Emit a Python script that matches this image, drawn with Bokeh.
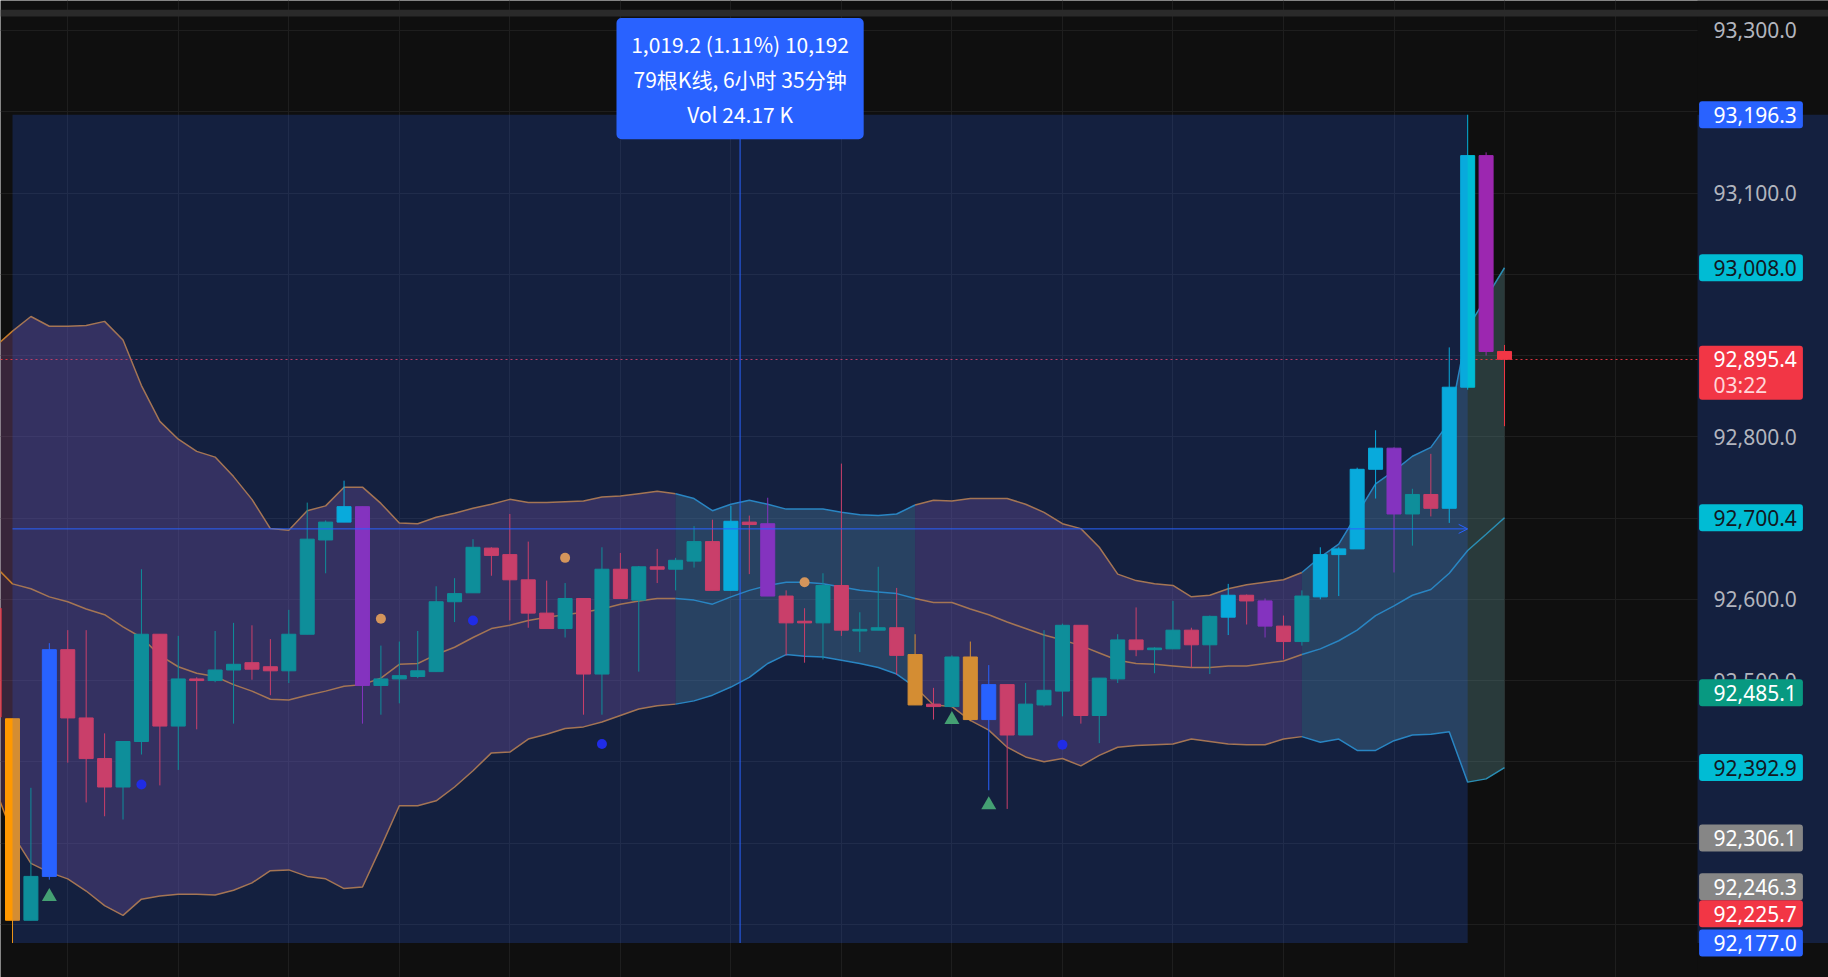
from bokeh.plotting import figure
from bokeh.models import (Range1d, FixedTicker, SingleIntervalTicker, NumeralTickFormatter, Grid,
                          BoxAnnotation, Label, Arrow, OpenHead, ColumnDataSource, LinearAxis)
from bokeh.embed import file_html
from bokeh.resources import INLINE

# ---------------- data ----------------
bar_index = list(range(-1, 82))
opens = [92589, 92453, 92205, 92259, 92538, 92454, 92404, 92369, 92425, 92557,
         92444, 92502, 92500, 92513, 92522, 92517, 92512, 92557, 92673, 92695,
         92714, 92494, 92502, 92505, 92511, 92597, 92608, 92663, 92655, 92624,
         92583, 92564, 92601, 92508, 92637, 92599, 92640, 92637, 92647, 92671,
         92611, 92695, 92693, 92604, 92573, 92571, 92617, 92561, 92562, 92565,
         92532, 92471, 92468, 92529, 92452, 92495, 92433, 92470, 92487, 92568,
         92457, 92502, 92550, 92538, 92539, 92562, 92544, 92578, 92605, 92598,
         92567, 92548, 92603, 92655, 92662, 92760, 92786, 92705, 92729, 92712,
         92861, 93146, 92905]
highs = [92600, 92453, 92368, 92546, 92562, 92562, 92435, 92425, 92637, 92557,
         92555, 92504, 92561, 92571, 92568, 92551, 92587, 92719, 92697, 92746,
         92714, 92543, 92548, 92561, 92616, 92626, 92674, 92664, 92705, 92671,
         92623, 92620, 92601, 92664, 92657, 92641, 92662, 92651, 92690, 92698,
         92715, 92703, 92725, 92611, 92589, 92632, 92767, 92584, 92640, 92614,
         92557, 92491, 92531, 92548, 92519, 92495, 92497, 92562, 92570, 92568,
         92503, 92557, 92590, 92541, 92598, 92565, 92580, 92619, 92606, 92601,
         92580, 92611, 92664, 92664, 92762, 92808, 92787, 92736, 92779, 92910,
         93196.3, 93150, 92913]
lows = [92440, 92177.0, 92205, 92255, 92399, 92350, 92333, 92329, 92409, 92371,
        92390, 92440, 92498, 92447, 92501, 92482, 92497, 92557, 92632, 92695,
        92447, 92458, 92472, 92503, 92511, 92572, 92608, 92629, 92574, 92565,
        92564, 92553, 92458, 92458, 92601, 92511, 92620, 92611, 92639, 92611,
        92611, 92631, 92604, 92531, 92522, 92526, 92555, 92535, 92562, 92507,
        92470, 92452, 92468, 92450, 92365, 92342, 92433, 92468, 92456, 92447,
        92423, 92497, 92530, 92509, 92539, 92516, 92508, 92556, 92569, 92553,
        92526, 92543, 92600, 92604, 92662, 92724, 92633, 92666, 92702, 92694,
        92858, 92900, 92813]
closes = [92455, 92205, 92259, 92538, 92454, 92404, 92369, 92425, 92557, 92444,
          92502, 92500, 92513, 92520, 92514, 92512, 92557, 92674, 92695, 92714,
          92494, 92502, 92506, 92512, 92597, 92607, 92664, 92654, 92624, 92583,
          92564, 92601, 92508, 92637, 92601, 92640, 92637, 92648, 92671, 92611,
          92696, 92692, 92604, 92571, 92571, 92617, 92562, 92563, 92565, 92531,
          92470, 92468, 92529, 92452, 92495, 92433, 92471, 92488, 92568, 92457,
          92503, 92550, 92538, 92540, 92562, 92544, 92579, 92605, 92598, 92567,
          92548, 92604, 92655, 92662, 92760, 92786, 92705, 92729, 92712, 92861,
          93146, 92905, 92895.4]
# bar colour state: r=down, t=up, o=orange, b=blue, c=cyan, p=purple
bar_state = ["r", "o", "t", "b", "r", "r", "r", "t", "t", "r",
             "t", "r", "t", "t", "r", "r", "t", "t", "t", "c",
             "p", "t", "t", "t", "t", "t", "t", "r", "r", "r",
             "r", "t", "r", "t", "r", "t", "r", "t", "t", "r",
             "c", "r", "p", "r", "r", "t", "r", "t", "t", "r",
             "o", "r", "t", "o", "b", "r", "t", "t", "t", "r",
             "t", "t", "r", "t", "t", "r", "t", "c", "r", "p",
             "r", "t", "c", "c", "c", "c", "p", "t", "r", "c",
             "c", "p", "r"]

bb_upper = [92910, 92930, 92948, 92936, 92936, 92937, 92942, 92919, 92863, 92819,
            92797, 92782, 92775, 92751, 92723, 92687, 92685, 92709, 92715, 92738,
            92738, 92718, 92694, 92693, 92701, 92706, 92712, 92717, 92723, 92719,
            92719, 92720, 92721, 92726, 92727, 92730, 92733, 92730, 92724, 92709,
            92717, 92722, 92717, 92711, 92711, 92711, 92707, 92704, 92703, 92705,
            92716, 92722, 92721, 92724, 92724, 92724, 92717, 92707, 92693, 92687,
            92664, 92631, 92623, 92619, 92617, 92603, 92605, 92613, 92618, 92621,
            92624, 92633, 92652, 92668, 92705, 92742, 92758, 92776, 92787, 92818,
            92934, 92971, 93008.0]
bb_mid = [92642, 92619, 92613, 92603, 92597, 92588, 92581, 92566, 92553, 92531,
          92517, 92509, 92505, 92495, 92487, 92477, 92476, 92482, 92487, 92493,
          92495, 92503, 92520, 92521, 92532, 92541, 92553, 92564, 92568, 92574,
          92578, 92581, 92584, 92588, 92594, 92598, 92601, 92601, 92599, 92594,
          92603, 92611, 92617, 92621, 92621, 92619, 92615, 92611, 92609, 92607,
          92601, 92596, 92596, 92588, 92581, 92572, 92564, 92556, 92550, 92543,
          92534, 92525, 92521, 92520, 92518, 92516, 92516, 92518, 92518, 92521,
          92524, 92532, 92539, 92549, 92562, 92580, 92592, 92605, 92612, 92632,
          92660, 92680, 92700.4]
bb_lower = [92371, 92311, 92275, 92264, 92256, 92241, 92223, 92211, 92231, 92235,
            92237, 92237, 92236, 92242, 92251, 92266, 92267, 92259, 92256, 92244,
            92246, 92295, 92346, 92346, 92352, 92369, 92389, 92411, 92412, 92428,
            92434, 92441, 92443, 92449, 92457, 92465, 92469, 92471, 92475, 92482,
            92492, 92504, 92521, 92532, 92530, 92529, 92525, 92521, 92516, 92508,
            92492, 92470, 92468, 92451, 92439, 92418, 92406, 92400, 92404, 92395,
            92408, 92418, 92420, 92421, 92422, 92428, 92425, 92422, 92421, 92421,
            92428, 92431, 92424, 92428, 92414, 92414, 92426, 92433, 92434, 92437,
            92375, 92379, 92392.9]
# band regime segments (first bar, last bar, regime)
band_segments = [(-1, 36, "range"), (36, 49, "trend"), (49, 70, "range"), (70, 81, "trend")]

triangle_bars = [2, 51, 53]
triangle_prices = [92234, 92452, 92347]
blue_dot_bars = [7, 25, 32, 57]
blue_dot_prices = [92372, 92574, 92422, 92421]
orange_dot_bars = [20, 30, 43]
orange_dot_prices = [92576, 92651, 92621]

range_start_bar, range_end_bar = 0, 79
range_low, range_high = 92177.0, 93196.3
tooltip_lines = ["1,019.2 (1.11%) 10,192", "79根K线, 6小时 35分钟", "Vol 24.17 K"]

axis_tick_values = [92500, 92600, 92800, 93100, 93300]
scale_label_values = [93196.3, 93008.0, 92895.4, 92700.4, 92485.1, 92392.9, 92306.1, 92246.3, 92225.7, 92177.0]
scale_label_kinds = ["blue", "cyan", "last", "cyan", "teal", "cyan", "gray", "gray", "red", "blue"]
countdown_text = "03:22"

# ---------------- styles / geometry ----------------
BG = "#0f0f0f"
GRID = "#1e1e1e"
C_UP = "#089981"
C_DN = "#f23645"
STATE_COLORS = {"r": C_DN, "t": C_UP, "o": "#ff9800", "b": "#2962ff", "c": "#00bcd4", "p": "#9c27b0"}
REGIME_FILL = {"range": "#985aa0", "trend": "#669ea2"}
REGIME_LINE = {"range": "#c47a2a", "trend": "#2a8eb4"}
TAG_BG = {"blue": "#2962ff", "cyan": "#00bcd4", "last": "#f23645", "red": "#f23645",
          "teal": "#089981", "gray": "#868686"}
TAG_FG = {"blue": "white", "cyan": "#131722", "last": "white", "red": "white",
          "teal": "white", "gray": "white"}
FONT = "Noto Sans"

W, H = 1828, 977
BAR_PX = 18.42
X_OFF_PX = 12.0          # canvas x of bar 0
AXIS_PX = 1697.0         # canvas x where the price scale starts
PX_PER_PRICE = 0.8126
Y_TOP = 93100 + 192.5 / PX_PER_PRICE
Y_BOT = Y_TOP - H / PX_PER_PRICE
X0 = -X_OFF_PX / BAR_PX
X1 = X0 + W / BAR_PX
AXIS_X = X0 + AXIS_PX / BAR_PX


def price_at(px):
    return Y_TOP - px / PX_PER_PRICE


def px_of(price):
    return (Y_TOP - price) * PX_PER_PRICE


def bar_at(px):
    return X0 + px / BAR_PX


p = figure(width=W, height=H, x_range=Range1d(X0, X1), y_range=Range1d(Y_BOT, Y_TOP),
           x_axis_location=None, y_axis_location=None, toolbar_location=None,
           output_backend="svg", min_border_left=0, min_border_right=0,
           min_border_top=0, min_border_bottom=0, background_fill_color=BG,
           border_fill_color=BG, outline_line_color=None)

p.xgrid.visible = False
p.ygrid.visible = False
p.add_layout(Grid(dimension=0, ticker=FixedTicker(ticks=list(range(3, 92, 6))),
                  grid_line_color=GRID, grid_line_width=1))
p.add_layout(Grid(dimension=1, ticker=SingleIntervalTicker(interval=100, num_minor_ticks=0),
                  grid_line_color=GRID, grid_line_width=1))

# Bollinger bands
i0 = bar_index[0]
for a, b, regime in band_segments:
    sl = slice(a - i0, b - i0 + 1)
    p.varea(x=bar_index[sl], y1=bb_lower[sl], y2=bb_upper[sl], fill_color=REGIME_FILL[regime],
            fill_alpha=0.3)
for a, b, regime in band_segments:
    sl = slice(a - i0, b - i0 + 1)
    for series in (bb_upper, bb_mid, bb_lower):
        p.line(bar_index[sl], series[sl], line_color=REGIME_LINE[regime], line_width=1.5)

# current price dotted line
p.hspan(y=[closes[-1]], line_color=C_DN, line_dash="2 3", line_width=1, line_alpha=0.9)

# candles
src = ColumnDataSource(dict(
    x=bar_index, o=opens, h=highs, l=lows, c=closes,
    top=[max(a, b) for a, b in zip(opens, closes)],
    bot=[min(a, b) for a, b in zip(opens, closes)],
    col=[STATE_COLORS[s] for s in bar_state]))
p.segment(x0="x", y0="l", x1="x", y1="h", line_color="col", line_width=1, source=src)
p.vbar(x="x", width=0.76, top="top", bottom="bot", fill_color="col", line_color="col",
       line_width=1, source=src)

# signal markers
p.scatter(triangle_bars, triangle_prices, marker="triangle", size=15, fill_color="#4caf50",
          line_color=None)
p.scatter(blue_dot_bars, blue_dot_prices, marker="circle", size=10, fill_color="#1e1ee0",
          line_color=None)
p.scatter(orange_dot_bars, orange_dot_prices, marker="circle", size=10, fill_color="#ffa232",
          line_color=None)

# date/price range box
p.quad(left=[range_start_bar], right=[range_end_bar], bottom=[range_low], top=[range_high],
       fill_color="#2962ff", fill_alpha=0.2, line_color=None)

# price-scale panel background + range highlight on it
p.quad(left=[AXIS_X], right=[X1], bottom=[Y_BOT], top=[Y_TOP], fill_color=BG, line_color=None)
p.quad(left=[AXIS_X], right=[X1], bottom=[range_low], top=[range_high],
       fill_color="#2962ff", fill_alpha=0.2, line_color=None)
# top window strip
p.quad(left=[X0], right=[X1], bottom=[price_at(16)], top=[price_at(9.3)], fill_color="#2a2a2a",
       line_color=None)

# price axis drawn at the scale's position
yax = LinearAxis(fixed_location=AXIS_X, ticker=FixedTicker(ticks=axis_tick_values),
                 formatter=NumeralTickFormatter(format="0,0.0"))
yax.axis_line_color = None
yax.major_tick_line_color = None
yax.minor_tick_line_color = None
yax.major_tick_out = 0
yax.major_tick_in = 0
yax.major_label_standoff = 16
yax.major_label_text_color = "#b2b5be"
yax.major_label_text_font = FONT
yax.major_label_text_font_size = "21px"
p.add_layout(yax, "right")

mid_bar = (range_start_bar + range_end_bar) / 2
mid_price = (range_low + range_high) / 2
p.add_layout(Arrow(end=OpenHead(size=9, line_color="#2962ff", line_width=1),
                   x_start=range_start_bar, y_start=mid_price, x_end=range_end_bar, y_end=mid_price,
                   line_color="#2962ff", line_width=1))
p.add_layout(Arrow(end=OpenHead(size=9, line_color="#2962ff", line_width=1),
                   x_start=mid_bar, y_start=range_low, x_end=mid_bar, y_end=range_high,
                   line_color="#2962ff", line_width=1))

# tooltip
TIP_HALF = 123.6 / BAR_PX
p.add_layout(BoxAnnotation(left=mid_bar - TIP_HALF, right=mid_bar + TIP_HALF,
                           top=price_at(17.5), bottom=price_at(138.7), fill_color="#2962ff",
                           fill_alpha=1, line_color=None, border_radius=5))
for k, txt in enumerate(tooltip_lines):
    p.add_layout(Label(x=mid_bar, y=price_at(43 + 35 * k), text=txt, text_align="center",
                       text_baseline="middle", text_color="white", text_font="Noto Sans CJK SC",
                       text_font_size="21px"))

# price scale tags
TAG_H = 27.0
order = sorted(range(len(scale_label_values)), key=lambda i: -scale_label_values[i])
prev_bottom = -1e9
for i in order:
    v = scale_label_values[i]
    kind = scale_label_kinds[i]
    c = px_of(v)
    top = c - TAG_H / 2
    bottom = c + TAG_H / 2 + (TAG_H if kind == "last" else 0)
    if top < prev_bottom:
        shift = prev_bottom - top
        c += shift
        top += shift
        bottom += shift
    prev_bottom = bottom
    p.add_layout(BoxAnnotation(left=bar_at(AXIS_PX + 1.6), right=bar_at(AXIS_PX + 105.4),
                               top=price_at(top), bottom=price_at(bottom),
                               fill_color=TAG_BG[kind], fill_alpha=1, line_color=None,
                               border_radius=3))
    p.add_layout(Label(x=bar_at(AXIS_PX + 16), y=price_at(c), text=f"{v:,.1f}",
                       text_align="left", text_baseline="middle", text_color=TAG_FG[kind],
                       text_font=FONT, text_font_size="21px"))
    if kind == "last":
        p.add_layout(Label(x=bar_at(AXIS_PX + 16), y=price_at(c + TAG_H - 1),
                           text=countdown_text, text_align="left", text_baseline="middle",
                           text_color="#ffd6d9", text_font=FONT, text_font_size="21px"))

html = file_html(p, INLINE, title="chart")
html = html.replace("<body>", '<body style="background:#0f0f0f;">', 1)
open("out.html", "w").write(html)
